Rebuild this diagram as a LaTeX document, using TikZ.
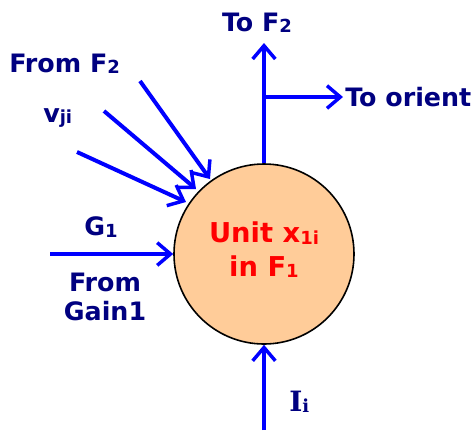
\documentclass[tikz,border=0pt]{standalone}
\usepackage{fontspec}
\setmainfont{DejaVu Sans}
\usetikzlibrary{arrows.meta}
\definecolor{navy}{RGB}{0,0,128}
\definecolor{arrblue}{RGB}{0,0,255}
\definecolor{peach}{RGB}{255,204,153}
\newcommand{\sbs}[1]{\raisebox{-0.1ex}{\fontsize{13.5}{14}\selectfont #1}}
\tikzset{
  conn/.style={draw=arrblue, line width=3pt, -{Straight Barb[length=10pt,width=17pt,line width=2.6pt]}},
  lbl/.style={text=navy, font=\bfseries\fontsize{19}{22}\selectfont, inner sep=0pt, align=center},
}
\begin{document}
\begin{tikzpicture}[x=0.75pt,y=-0.75pt]
\useasboundingbox (0,0) rectangle (472,430);
\node[circle, draw=black, line width=1.2pt, fill=peach, minimum size=180*0.75pt, inner sep=0pt] (unit) at (264,254) {};
\node[text=red, font=\bfseries\fontsize{20.5}{25}\selectfont, align=center] (ut) at (264,250) {Unit x\sbs{1i}\\in F\sbs{1}};
% top
\coordinate (topend) at (264,43);
\coordinate (branch) at (264,97);
\coordinate (orientend) at (343,97);
\draw[conn] (unit.north) -- (topend);
\draw[conn] (branch) -- (orientend);
\node[lbl, anchor=south] (tof2) at (257,33) {To F\sbs{2}};
\node[lbl, anchor=west] (toorient) at (345,97) {To orient};
% left diagonal arrows
\coordinate (s1) at (140,81);
\coordinate (e1) at (210,179);
\coordinate (s2) at (104,111);
\coordinate (e2) at (196,189);
\coordinate (s3) at (77,152);
\coordinate (e3) at (186,202);
\draw[conn] (s1) -- (e1);
\draw[conn] (s2) -- (e2);
\draw[conn] (s3) -- (e3);
\node[lbl, anchor=west] (fromf2) at (9,64) {From F\sbs{2}};
\node[lbl, anchor=west] (vji) at (43,118) {v\sbs{ji}};
% G1 arrow
\coordinate (gs) at (50,254);
\draw[conn] (gs) -- (unit.west);
\node[lbl] (g1) at (101,227) {G\sbs{1}};
\node[lbl] (gain) at (105,297) {From\\Gain1};
% bottom
\coordinate (bs) at (264,430);
\draw[conn] (bs) -- (unit.south);
\node[lbl, anchor=west] (ii) at (289,402) {\fontspec{DejaVu Serif}\bfseries\fontsize{21}{22}\selectfont I\sbs{i}};
\end{tikzpicture}
\end{document}
